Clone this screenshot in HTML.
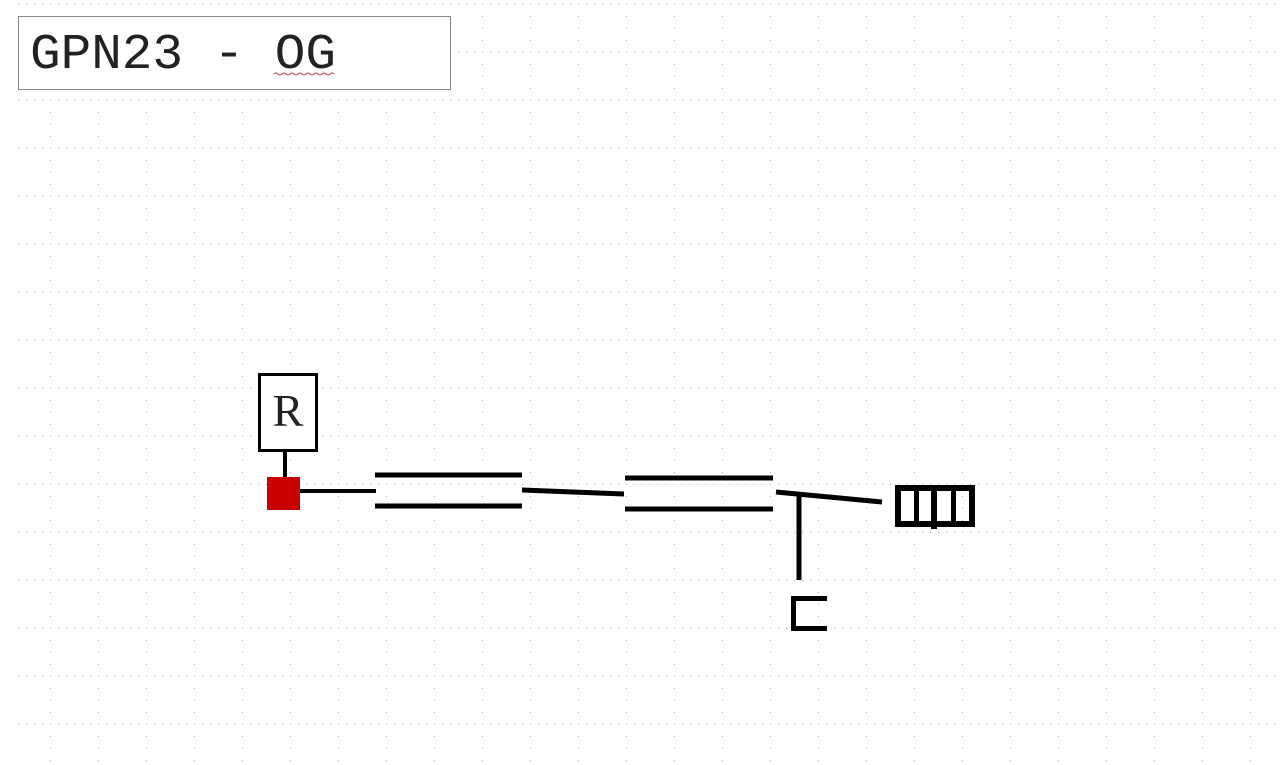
<!DOCTYPE html>
<html><head><meta charset="utf-8"><style>
html,body{margin:0;padding:0;background:#fff;width:1280px;height:765px;overflow:hidden}
</style></head><body>
<svg width="1280" height="765" xmlns="http://www.w3.org/2000/svg">
<defs>
<pattern id="g" x="2" y="4" width="48" height="48" patternUnits="userSpaceOnUse">
<line x1="0" y1="0.5" x2="48" y2="0.5" stroke="#9a9a9a" stroke-width="1" stroke-dasharray="1 7"/>
<line x1="0.5" y1="0" x2="0.5" y2="48" stroke="#b0b0b0" stroke-width="1" stroke-dasharray="1 11"/>
</pattern>
</defs>
<rect x="16" y="0" width="1264" height="765" fill="url(#g)"/>
<rect x="18.5" y="16.5" width="432" height="73" fill="#fff" stroke="#888" stroke-width="1"/>
<text x="30" y="68" font-family="Liberation Mono, monospace" font-size="50" fill="#222" textLength="306" lengthAdjust="spacingAndGlyphs">GPN23 - OG</text>
<path d="M274 74 q2 -2 4 0 t4 0 t4 0 t4 0 t4 0 t4 0 t4 0 t4 0 t4 0 t4 0 t4 0 t4 0 t4 0 t4 0 t4 0" fill="none" stroke="#c44" stroke-width="1"/>
<rect x="259.5" y="374.5" width="57" height="76" fill="#fff" stroke="#000" stroke-width="3"/>
<text x="288" y="426" text-anchor="middle" font-family="Liberation Serif, serif" font-size="46" fill="#222">R</text>
<line x1="285" y1="451" x2="285" y2="478" stroke="#000" stroke-width="4"/>
<rect x="267" y="477" width="33" height="33" fill="#c80000"/>
<g stroke="#000" stroke-width="5" fill="none">
<line x1="300" y1="491" x2="376" y2="491" stroke-width="4"/>
<line x1="375" y1="475" x2="522" y2="475"/>
<line x1="375" y1="506" x2="522" y2="506"/>
<line x1="522" y1="490" x2="624" y2="494"/>
<line x1="625" y1="478" x2="773" y2="478"/>
<line x1="625" y1="509" x2="773" y2="509"/>
<line x1="776" y1="492" x2="882" y2="502"/>
<line x1="799" y1="496" x2="799" y2="580"/>
<path d="M827 598.5 H793.5 V628.5 H827" stroke-width="5"/>
</g>
<g fill="#000">
<rect x="895" y="485" width="80" height="6"/>
<rect x="895" y="521" width="80" height="6"/>
<rect x="895" y="485" width="6" height="42"/>
<rect x="969" y="485" width="6" height="42"/>
<rect x="914" y="485" width="5" height="42"/>
<rect x="931" y="485" width="6" height="44"/>
<rect x="951" y="485" width="5" height="42"/>
</g>
</svg>
</body></html>
